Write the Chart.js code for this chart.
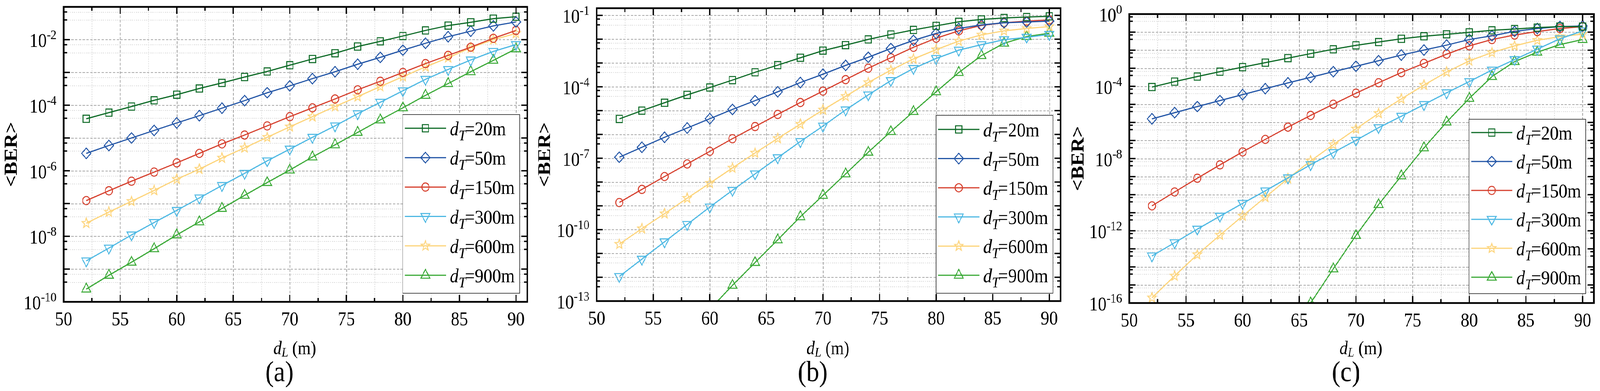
<!DOCTYPE html>
<html><head><meta charset="utf-8">
<script src="https://cdn.jsdelivr.net/npm/chart.js@4.4.1/dist/chart.umd.min.js"></script>
<style>
html,body{margin:0;padding:0;background:#fff;overflow:hidden;}
#wrap{position:absolute;left:0;top:0;width:4650px;height:1000px;background:#fff;transform-origin:0 0;}
canvas{position:absolute;top:0;}
</style></head><body>
<div id="wrap">
<canvas id="ca" width="1550" height="1000" style="left:0px;width:1550px;height:1000px"></canvas>
<canvas id="cb" width="1550" height="1000" style="left:1550px;width:1550px;height:1000px"></canvas>
<canvas id="cc" width="1550" height="1000" style="left:3100px;width:1550px;height:1000px"></canvas>
</div>
<script>
// fit the 4650x1000 figure into the actual viewport
(function () {
  const vw = document.documentElement.clientWidth || window.innerWidth;
  const vh = document.documentElement.clientHeight || window.innerHeight;
  const sx = vw / 4650, sy = vh / 1000;
  if (Math.abs(sx - 1) > 0.002 || Math.abs(sy - 1) > 0.002)
    document.getElementById('wrap').style.transform = 'scale(' + sx + ',' + sy + ')';
})();

// ---------------- DATA ----------------
const dL = [52,54,56,58,60,62,64,66,68,70,72,74,76,78,80,82,84,86,88,90];
const dTLabels = ['20m','50m','150m','300m','600m','900m'];
const xTickLabels = [50,55,60,65,70,75,80,85,90];

// panel (a)
const a20  = [3.85e-5,5.94e-5,9.1e-5,1.41e-4,2.09e-4,3.24e-4,4.79e-4,7.24e-4,1.07e-3,1.66e-3,2.57e-3,3.85e-3,6.17e-3,8.9e-3,1.29e-2,1.91e-2,2.69e-2,3.39e-2,4.37e-2,5.0e-2];
const a50  = [3.39e-6,5.89e-6,1.0e-5,1.70e-5,2.88e-5,4.79e-5,8.13e-5,1.38e-4,2.40e-4,3.89e-4,6.46e-4,1.05e-3,1.78e-3,2.88e-3,4.79e-3,7.76e-3,1.23e-2,1.82e-2,2.63e-2,3.47e-2];
const a150 = [1.23e-7,2.45e-7,4.79e-7,9.12e-7,1.74e-6,3.39e-6,6.61e-6,1.23e-5,2.34e-5,4.47e-5,8.32e-5,1.55e-4,2.95e-4,5.37e-4,1.0e-3,1.86e-3,3.31e-3,5.89e-3,1.10e-2,1.91e-2];
const a300 = [1.78e-9,4.37e-9,1.10e-8,2.63e-8,6.17e-8,1.48e-7,3.55e-7,8.32e-7,2.0e-6,4.57e-6,1.05e-5,2.34e-5,5.5e-5,1.23e-4,2.75e-4,6.17e-4,1.23e-3,2.40e-3,4.37e-3,7.08e-3];
const a600 = [2.51e-8,5.5e-8,1.17e-7,2.51e-7,5.5e-7,1.12e-6,2.45e-6,5.01e-6,1.05e-5,2.19e-5,4.47e-5,9.12e-5,1.82e-4,3.72e-4,7.41e-4,1.48e-3,2.82e-3,5.62e-3,1.0e-2,1.55e-2];
const a900 = [2.45e-10,6.46e-10,1.62e-9,4.17e-9,1.10e-8,2.75e-8,7.08e-8,1.78e-7,4.37e-7,1.05e-6,2.63e-6,6.17e-6,1.48e-5,3.55e-5,8.32e-5,2.0e-4,4.57e-4,1.05e-3,2.34e-3,5.25e-3];

// panel (b)
const b20  = [4.47e-6,1.0e-5,2.14e-5,4.57e-5,9.33e-5,1.91e-4,4.07e-4,8.13e-4,1.66e-3,3.31e-3,5.62e-3,9.77e-3,1.58e-2,2.45e-2,3.63e-2,5.37e-2,6.76e-2,7.76e-2,8.51e-2,9.12e-2];
const b50  = [1.10e-7,2.88e-7,7.59e-7,1.86e-6,4.57e-6,1.12e-5,2.63e-5,6.17e-5,1.51e-4,3.39e-4,7.94e-4,1.74e-3,4.07e-3,8.91e-3,1.74e-2,2.82e-2,3.98e-2,4.9e-2,5.25e-2,5.75e-2];
const b150 = [1.38e-9,4.9e-9,1.70e-8,5.75e-8,1.95e-7,6.61e-7,2.14e-6,6.92e-6,2.19e-5,6.61e-5,2.0e-4,6.03e-4,1.66e-3,4.57e-3,1.10e-2,2.24e-2,3.8e-2,4.9e-2,5.75e-2,6.46e-2];
const b300 = [1.07e-12,5.75e-12,3.09e-11,1.66e-10,8.91e-10,4.47e-9,2.19e-8,1.05e-7,5.01e-7,2.24e-6,1.07e-5,4.57e-5,1.82e-4,5.89e-4,1.55e-3,3.47e-3,5.89e-3,9.55e-3,1.20e-2,1.58e-2];
const b600 = [2.45e-11,1.10e-10,4.68e-10,2.09e-9,8.91e-9,3.89e-8,1.66e-7,6.76e-7,2.69e-6,1.07e-5,3.98e-5,1.51e-4,5.01e-4,1.48e-3,3.63e-3,8.32e-3,1.51e-2,2.24e-2,2.82e-2,3.39e-2];
const b900 = [null,null,null,null,4.5e-14,4.57e-13,4.17e-12,3.72e-11,3.47e-10,2.75e-9,2.19e-8,1.78e-7,1.32e-6,9.12e-6,6.17e-5,3.98e-4,2.04e-3,6.76e-3,1.29e-2,1.78e-2];

// panel (c)
const c20  = [9.12e-5,1.82e-4,3.47e-4,6.46e-4,1.15e-3,2.04e-3,3.63e-3,6.46e-3,1.12e-2,1.86e-2,2.82e-2,4.27e-2,5.89e-2,7.59e-2,9.77e-2,0.126,0.148,0.178,0.204,0.204];
const c50  = [1.58e-6,3.47e-6,7.59e-6,1.62e-5,3.47e-5,7.41e-5,1.55e-4,3.16e-4,6.46e-4,1.29e-3,2.63e-3,5.37e-3,1.02e-2,1.91e-2,3.89e-2,6.31e-2,0.110,0.158,0.204,0.219];
const c150 = [2.4e-11,1.41e-10,8.13e-10,4.47e-9,2.34e-8,1.15e-7,5.5e-7,2.45e-6,1.02e-5,4.17e-5,1.58e-4,5.75e-4,1.86e-3,6.03e-3,1.74e-2,3.89e-2,6.92e-2,0.107,0.158,0.204];
const c300 = [4.07e-14,2.19e-13,1.23e-12,6.46e-12,3.31e-11,1.62e-10,8.51e-10,4.57e-9,2.14e-8,1.02e-7,5.13e-7,2.19e-6,9.77e-6,4.37e-5,1.82e-4,7.94e-4,3.02e-3,1.15e-2,4.27e-2,0.117];
const c600 = [1.95e-16,3.16e-15,4.79e-14,5.75e-13,6.61e-12,7.24e-11,7.76e-10,7.41e-9,5.89e-8,4.37e-7,3.16e-6,2.0e-5,1.17e-4,6.17e-4,2.57e-3,7.41e-3,1.74e-2,3.55e-2,5.62e-2,7.76e-2];
const c900 = [null,null,null,null,null,null,null,1.0e-16,7.76e-15,5.5e-13,2.82e-11,1.10e-9,3.89e-8,1.05e-6,2.14e-5,3.47e-4,2.34e-3,7.76e-3,2.04e-2,3.89e-2];

// y tick label exponents
const yExpA = [-10,-8,-6,-4,-2];
const yExpB = [-13,-10,-7,-4,-1];
const yExpC = [-16,-12,-8,-4,0];

// ---------------- STYLE ----------------
const FONT = "'Liberation Serif','Times New Roman',serif";
const colors = ['#0d6a26','#2255a6','#d6402e','#4db8e3','#fdd47a','#3aa936'];

function makeStar(color, r) {
  const s = Math.ceil(r * 2 + 6);
  const c = document.createElement('canvas');
  c.width = s; c.height = s;
  const g = c.getContext('2d');
  g.strokeStyle = color; g.lineWidth = 2.6; g.lineJoin = 'miter';
  g.beginPath();
  for (let k = 0; k < 10; k++) {
    const rr = (k % 2) ? r * 0.42 : r;
    const ang = -Math.PI / 2 + k * Math.PI / 5;
    const px = s / 2 + rr * Math.cos(ang), py = s / 2 + rr * Math.sin(ang);
    if (k) g.lineTo(px, py); else g.moveTo(px, py);
  }
  g.closePath(); g.stroke();
  return c;
}
const starImg = makeStar(colors[4], 13);

const markers = [
  {pointStyle: 'rect', radius: 13, rotation: 0},
  {pointStyle: 'rectRot', radius: 13.5, rotation: 0},
  {pointStyle: 'circle', radius: 10.5, rotation: 0},
  {pointStyle: 'triangle', radius: 15, rotation: 180},
  {pointStyle: starImg, radius: 13, rotation: 0},
  {pointStyle: 'triangle', radius: 15, rotation: 0}
];

function buildSets(series) {
  return series.map((vals, i) => ({
    label: 'dT=' + dTLabels[i],
    data: dL.map((x, j) => ({x: x, y: vals[j]})),
    borderColor: colors[i],
    backgroundColor: colors[i],
    borderWidth: 3,
    tension: 0,
    pointStyle: markers[i].pointStyle,
    pointRadius: markers[i].radius,
    pointRotation: markers[i].rotation,
    pointBorderWidth: 2.6,
    pointBorderColor: colors[i],
    pointBackgroundColor: 'rgba(0,0,0,0)',
    pointHoverRadius: markers[i].radius
  }));
}

function drawRich(ctx, x, base, segs, align) {
  let total = 0;
  segs.forEach(s => { ctx.font = s.font; s.w = ctx.measureText(s.t).width; total += s.w + (s.gap || 0); });
  let cx = align === 'center' ? x - total / 2 : (align === 'right' ? x - total : x);
  ctx.textAlign = 'left'; ctx.textBaseline = 'alphabetic';
  segs.forEach(s => { ctx.font = s.font; ctx.fillText(s.t, cx, base + (s.dy || 0)); cx += s.w + (s.gap || 0); });
}

const panelDeco = {
  id: 'panelDeco',
  beforeDatasetsDraw(chart, args, o) {
    const {ctx, chartArea: ca} = chart;
    const xs = chart.scales.x, ys = chart.scales.y;
    const lmin = Math.floor(Math.log10(ys.min)), lmax = Math.ceil(Math.log10(ys.max));
    ctx.save();
    ctx.beginPath(); ctx.rect(ca.left, ca.top, ca.right - ca.left, ca.bottom - ca.top); ctx.clip();
    const hl = (py) => { ctx.beginPath(); ctx.moveTo(ca.left, py); ctx.lineTo(ca.right, py); ctx.stroke(); };
    const vl = (px) => { ctx.beginPath(); ctx.moveTo(px, ca.top); ctx.lineTo(px, ca.bottom); ctx.stroke(); };
    // minor grid
    ctx.strokeStyle = '#cfcfcf'; ctx.lineWidth = 1.5; ctx.setLineDash([3, 3]);
    for (let k = lmin; k <= lmax; k++) {
      [4, 7].forEach(m => {
        const v = m * Math.pow(10, k);
        if (v > ys.min && v < ys.max) hl(Math.round(ys.getPixelForValue(v)) + 0.5);
      });
    }
    for (let i = 0; i < xTickLabels.length; i++) {
      const v = xTickLabels[i] + 2.5;
      if (v < xs.max) vl(Math.round(xs.getPixelForValue(v)) + 0.5);
    }
    // major grid
    ctx.strokeStyle = '#8c8c8c'; ctx.lineWidth = 1.7; ctx.setLineDash([7, 4]);
    for (let k = lmin; k <= lmax; k++) {
      const v = Math.pow(10, k);
      const py = ys.getPixelForValue(v);
      if (py > ca.top + 3 && py < ca.bottom - 3) hl(Math.round(py) + 0.5);
    }
    xTickLabels.forEach(v => {
      const px = xs.getPixelForValue(v);
      if (px > ca.left + 3 && px < ca.right - 3) vl(Math.round(px) + 0.5);
    });
    ctx.restore();
  },
  afterDatasetsDraw(chart, args, o) {
    const {ctx, chartArea: ca} = chart;
    const xs = chart.scales.x, ys = chart.scales.y;
    const lmin = Math.floor(Math.log10(ys.min)), lmax = Math.ceil(Math.log10(ys.max));
    ctx.save();
    ctx.setLineDash([]);
    // legend
    const L = o.legend;
    const lx = ca.right - L.right - L.width, ly = ca.bottom - L.bottom - L.height;
    ctx.fillStyle = '#fff'; ctx.fillRect(lx, ly, L.width, L.height);
    ctx.strokeStyle = '#222'; ctx.lineWidth = 1.6; ctx.strokeRect(lx, ly, L.width, L.height);
    chart.data.datasets.forEach((ds, i) => {
      const cy = ly + L.first + i * L.step;
      ctx.strokeStyle = ds.borderColor; ctx.lineWidth = 3;
      ctx.beginPath(); ctx.moveTo(lx + 6, cy); ctx.lineTo(lx + 126, cy); ctx.stroke();
      ctx.lineWidth = ds.pointBorderWidth; ctx.fillStyle = 'rgba(0,0,0,0)';
      Chart.helpers.drawPoint(ctx, {pointStyle: ds.pointStyle, rotation: ds.pointRotation, radius: ds.pointRadius, borderWidth: ds.pointBorderWidth}, lx + 66, cy);
      ctx.fillStyle = '#000';
      drawRich(ctx, lx + 137, cy + 18, [
        {t: 'd', font: 'italic 51px ' + FONT},
        {t: 'T', font: 'italic 38px ' + FONT, dy: 13, gap: -3},
        {t: '=' + dTLabels[i], font: '51px ' + FONT}
      ], 'left');
    });
    // frame
    ctx.strokeStyle = '#000'; ctx.lineWidth = 4.5;
    ctx.strokeRect(ca.left, ca.top, ca.right - ca.left, ca.bottom - ca.top);
    // ticks
    ctx.lineWidth = 3.5;
    const seg = (x1, y1, x2, y2) => { ctx.beginPath(); ctx.moveTo(x1, y1); ctx.lineTo(x2, y2); ctx.stroke(); };
    xTickLabels.forEach(v => {
      const px = xs.getPixelForValue(v);
      seg(px, ca.bottom, px, ca.bottom - 18); seg(px, ca.top, px, ca.top + 18);
      const pm = xs.getPixelForValue(v + 2.5);
      if (v + 2.5 < xs.max) { seg(pm, ca.bottom, pm, ca.bottom - 10); seg(pm, ca.top, pm, ca.top + 10); }
    });
    for (let k = lmin; k <= lmax; k++) {
      const v = Math.pow(10, k);
      if (v >= ys.min * 0.999 && v <= ys.max * 1.001) {
        const py = ys.getPixelForValue(v);
        seg(ca.left, py, ca.left + 18, py); seg(ca.right, py, ca.right - 18, py);
      }
      [4, 7].forEach(m => {
        const w = m * v;
        if (w > ys.min && w < ys.max) {
          const py = ys.getPixelForValue(w);
          seg(ca.left, py, ca.left + 10, py); seg(ca.right, py, ca.right - 10, py);
        }
      });
    }
    // x tick labels
    ctx.fillStyle = '#000'; ctx.font = '50px ' + FONT; ctx.textAlign = 'center'; ctx.textBaseline = 'alphabetic';
    xTickLabels.forEach(v => { ctx.fillText(String(v), xs.getPixelForValue(v), ca.bottom + 60); });
    // y tick labels
    o.yExp.forEach(e => {
      const py = ys.getPixelForValue(Math.pow(10, e));
      drawRich(ctx, ca.left - 20, py + 19, [
        {t: '10', font: '50px ' + FONT},
        {t: String(e), font: '34px ' + FONT, dy: -20, gap: 1}
      ], 'right');
    });
    // axis titles
    drawRich(ctx, (ca.left + ca.right) / 2 - 2, 906, [
      {t: 'd', font: 'italic 48px ' + FONT},
      {t: 'L', font: 'italic 34px ' + FONT, dy: 6},
      {t: ' (m)', font: '48px ' + FONT}
    ], 'center');
    ctx.save();
    ctx.translate(36, (ca.top + ca.bottom) / 2);
    ctx.rotate(-Math.PI / 2);
    ctx.font = 'bold 52px ' + FONT; ctx.textAlign = 'center'; ctx.textBaseline = 'middle';
    ctx.fillText('<BER>', 0, 0);
    ctx.restore();
    // panel letter
    ctx.font = '74px ' + FONT; ctx.textAlign = 'center'; ctx.textBaseline = 'alphabetic';
    ctx.fillText(o.letter, 812, 975);
    ctx.restore();
  }
};

function makeChart(id, series, yMin, yMax, yExp, letter, pad, legend) {
  return new Chart(document.getElementById(id), {
    type: 'line',
    data: {datasets: buildSets(series)},
    options: {
      responsive: false, animation: false, devicePixelRatio: 1,
      layout: {padding: pad},
      scales: {
        x: {type: 'linear', min: 50, max: 91, display: false},
        y: {type: 'logarithmic', min: yMin, max: yMax, display: false}
      },
      plugins: {
        legend: {display: false}, tooltip: {enabled: false},
        panelDeco: {yExp: yExp, letter: letter, legend: legend}
      }
    },
    plugins: [panelDeco]
  });
}

makeChart('ca', [a20, a50, a150, a300, a600, a900], 1e-10, 1e-1, yExpA, '(a)',
  {left: 185, right: 13, top: 15, bottom: 228},
  {width: 340, height: 457, right: 22, bottom: 22, first: 35, step: 75.2});
makeChart('cb', [b20, b50, b150, b300, b600, b900], 1e-13, 0.2, yExpB, '(b)',
  {left: 184, right: 14, top: 21, bottom: 230},
  {width: 340, height: 455, right: 22, bottom: 20, first: 36, step: 74.6});
makeChart('cc', [c20, c50, c150, c300, c600, c900], 1e-16, 1, yExpC, '(c)',
  {left: 182, right: 16, top: 36, bottom: 225},
  {width: 339, height: 446, right: 24, bottom: 24, first: 34, step: 74});
</script>
</body></html>
